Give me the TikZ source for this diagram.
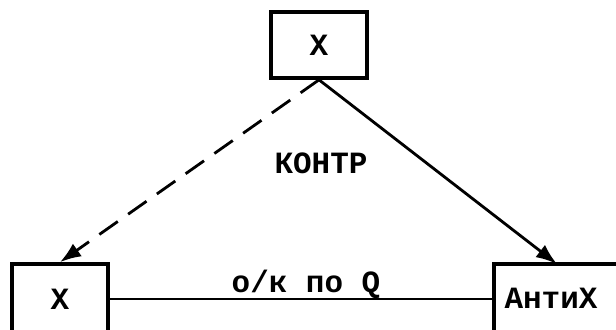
\documentclass[tikz,border=0pt]{standalone}
\usepackage{fontspec}
\setmainfont{Liberation Mono}
\usepackage{tikz}
\usetikzlibrary{positioning,arrows.meta}

\begin{document}
\begin{tikzpicture}[
    x=0.025cm, y=-0.025cm,
    every node/.style={font=\fontsize{22}{26}\selectfont\bfseries, align=center},
    box/.style={draw=black, line width=2.6pt, minimum width=2.4cm, inner sep=0pt},
    link/.style={line width=2pt, black},
    fwd/.style={link, -{Latex[length=15pt,width=11pt]}},
    lab/.style={inner sep=1pt}
  ]
  \clip (0,0) rectangle (616,329);

  % ---------- blocs ----------------------------------------------------
  \node[box, minimum height=1.65cm] (top) at (319,45) {X};
  \node[box, minimum height=1.75cm] (left) at (60,299) {X};
  \node[box, minimum width=4.5cm, minimum height=1.75cm] (anti) at (584,299) {};
  \node[lab] (antitxt) at (551,298) {АнтиХ};
  \coordinate (antitop) at (557,264);

  % ---------- liaisons -------------------------------------------------
  \draw[fwd, dash pattern=on 16pt off 9pt] (top.south) -- (left.north);
  \draw[fwd] (top.south) -- (antitop);
  \draw[link] (left.east) -- (anti.west);

  \node[lab] (contr) at (321,163) {КОНТР};
  \node[lab] (ok) at (306,284) {о/к по Q};
\end{tikzpicture}
\end{document}
